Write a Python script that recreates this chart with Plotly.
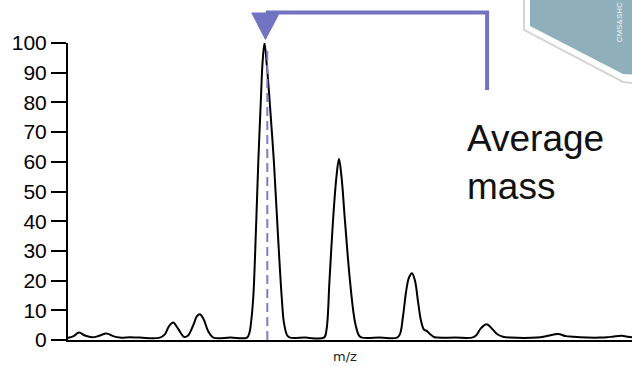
import plotly.graph_objects as go

# ---- data ----
mz = [997.35, 997.42, 997.50, 997.58, 997.68, 997.77, 997.87, 997.96, 998.05, 998.19,
      998.32, 998.59, 998.66, 998.71, 998.77, 998.83, 998.92, 998.97, 999.04, 999.09,
      999.13, 999.18, 999.24, 999.31, 999.54,
      999.764, 999.798, 999.818, 999.849, 999.885, 999.916, 999.953, 999.973, 1000.000,
      1000.030, 1000.065, 1000.128, 1000.178, 1000.232, 1000.263, 1000.307, 1000.344, 1000.546,
      1000.802, 1000.836, 1000.876, 1000.923, 1000.970, 1001.004, 1001.038, 1001.085,
      1001.152, 1001.220, 1001.274, 1001.314, 1001.557,
      1001.786, 1001.826, 1001.867, 1001.907, 1001.947, 1001.988, 1002.028, 1002.069,
      1002.109, 1002.150, 1002.190, 1002.230, 1002.284, 1002.325, 1002.567,
      1002.796, 1002.850, 1002.918, 1002.995, 1003.066, 1003.133, 1003.214, 1003.309,
      1003.672, 1003.821, 1003.956, 1004.063, 1004.144, 1004.252, 1004.522, 1004.616,
      1004.710, 1004.814, 1004.899, 1004.953]
intensity = [0.7, 1.2, 2.5, 1.5, 0.9, 1.4, 2.2, 1.3, 0.8, 0.9,
             0.8, 0.8, 2.0, 4.5, 5.9, 4.0, 1.0, 1.5, 5.0, 8.0,
             8.7, 7.0, 3.0, 0.8, 0.8,
             0.8, 2.5, 5.7, 14.5, 37, 59.5, 82, 93, 100,
             93, 82, 59.5, 37, 14.5, 5.7, 1.5, 0.8, 0.8,
             0.8, 3.5, 20, 40, 55, 61, 55, 40,
             20, 6, 1.5, 0.8, 0.8,
             0.8, 2.0, 8.0, 16, 21, 22.5, 20, 13,
             6.5, 3.5, 3.0, 2.0, 1.0, 0.8, 0.8,
             0.8, 1.5, 4.0, 5.3, 3.8, 2.0, 1.1, 0.8,
             0.8, 1.4, 2.0, 1.3, 1.1, 0.9, 0.8, 0.9,
             1.2, 1.4, 1.1, 0.9]

average_mz = 1000.038
bracket_end_mz = 1003.0
x_range = [997.352, 1004.953]
y_ticks = [0, 10, 20, 30, 40, 50, 60, 70, 80, 90, 100]
label_lines = ["Average", "mass"]
x_title = "m/z"
watermark = "CMS&amp;SHC"

FONT = "Liberation Sans, Arial, sans-serif"
PURPLE = "#7373c4"

fig = go.Figure()
fig.add_trace(go.Scatter(x=mz, y=intensity, mode="lines",
                         line=dict(color="black", width=2, shape="spline", smoothing=1.0),
                         hoverinfo="skip", showlegend=False))

shapes = []
# decorative hexagon (top right)
shapes.append(dict(type="path", xref="paper", yref="paper",
                   path="M 0.8085 1.2 L 0.8085 1.0438 L 0.9840 0.8687 L 1.03 0.86 L 1.03 1.2 Z",
                   fillcolor="white", line=dict(color="#d6d6d6", width=2), layer="below"))
shapes.append(dict(type="path", xref="paper", yref="paper",
                   path="M 0.8191 1.2 L 0.8191 1.0572 L 0.9840 0.8956 L 1.03 0.89 L 1.03 1.2 Z",
                   fillcolor="#8fb0bb", line=dict(width=0), layer="below"))
# dashed average-mass line
shapes.append(dict(type="line", xref="x", yref="y", x0=average_mz, x1=average_mz, y0=0, y1=98.6,
                   line=dict(color="#7d7dd0", width=2, dash="9px,5px")))
# bracket from the arrow to the label
shapes.append(dict(type="path", xref="x", yref="paper",
                   path=f"M {average_mz - 0.02} 1.103 L {bracket_end_mz} 1.103 L {bracket_end_mz} 0.842",
                   line=dict(color=PURPLE, width=4)))
# arrow head
shapes.append(dict(type="path", xref="x", yref="paper",
                   path=f"M {average_mz - 0.208} 1.101 L {average_mz + 0.162} 1.101 L {average_mz - 0.025} 1.012 Z",
                   fillcolor=PURPLE, line=dict(color=PURPLE, width=1)))

annotations = [
    dict(text=label_lines[0], xref="paper", yref="paper", x=0.7040, y=0.6800,
         xanchor="left", yanchor="middle", showarrow=False,
         font=dict(family=FONT, size=37, color="#111111")),
    dict(text=label_lines[1], xref="paper", yref="paper", x=0.7040, y=0.5152,
         xanchor="left", yanchor="middle", showarrow=False,
         font=dict(family=FONT, size=37, color="#111111")),
    dict(text=x_title, xref="paper", yref="paper", x=0.491, y=-0.057,
         xanchor="center", yanchor="middle", showarrow=False,
         font=dict(family="DejaVu Sans, sans-serif", size=13, color="#222222")),
    dict(text=watermark, xref="paper", yref="paper", x=0.977, y=1.070,
         xanchor="center", yanchor="middle", showarrow=False, textangle=-90,
         font=dict(family=FONT, size=8, color="#eef3f5")),
]

fig.update_layout(
    width=632, height=366,
    margin=dict(l=68, r=0, t=43, b=26),
    paper_bgcolor="white", plot_bgcolor="white",
    showlegend=False,
    shapes=shapes, annotations=annotations,
    xaxis=dict(range=x_range, showline=True, linecolor="black", linewidth=2,
               showticklabels=False, ticks="", showgrid=False, zeroline=False, fixedrange=True),
    yaxis=dict(range=[0, 100], tickvals=y_ticks, showline=True, linecolor="black", linewidth=2,
               ticks="outside", ticklen=15, tickwidth=2, tickcolor="black",
               tickfont=dict(family=FONT, size=21, color="black"),
               showgrid=False, zeroline=False, fixedrange=True),
)

fig.write_html("out.html", config={"displayModeBar": False})
